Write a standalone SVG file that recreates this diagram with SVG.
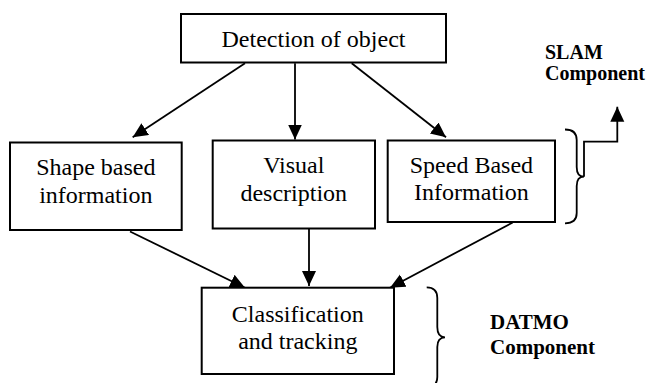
<svg xmlns="http://www.w3.org/2000/svg" width="652" height="383" viewBox="0 0 652 383">
<style>
.box{fill:#fff;stroke:#000;stroke-width:2}
.t{font-family:"Liberation Serif","Times New Roman",serif;font-size:24px;fill:#000;text-anchor:middle}
.b{font-family:"Liberation Serif","Times New Roman",serif;font-weight:bold;fill:#000}
.c{fill:none;stroke:#000;stroke-width:1.8}
.br{fill:none;stroke:#000;stroke-width:1.8}
</style>
<defs>
<marker id="ah" markerUnits="userSpaceOnUse" markerWidth="16" markerHeight="15" refX="15" refY="7" orient="auto">
<path d="M0,0 L15,7 L0,14 z" fill="#000"/>
</marker>
</defs>
<rect width="652" height="383" fill="#fff"/>
<g id="connectors">
<line class="c" x1="245" y1="63.3" x2="132.7" y2="137.3" marker-end="url(#ah)"/>
<line class="c" x1="295" y1="63.3" x2="295" y2="139.5" marker-end="url(#ah)"/>
<line class="c" x1="351.7" y1="63.3" x2="446" y2="137.3" marker-end="url(#ah)"/>
<line class="c" x1="130" y1="231.5" x2="245" y2="287.7" marker-end="url(#ah)"/>
<line class="c" x1="309" y1="228.5" x2="309" y2="286" marker-end="url(#ah)"/>
<line class="c" x1="512.7" y1="222.5" x2="390" y2="287.7" marker-end="url(#ah)"/>
<polyline class="c" points="584,176.7 584,141.7 617.3,141.7 617.3,106.7" marker-end="url(#ah)"/>
</g>
<g id="detection">
<rect class="box" x="181" y="14" width="265" height="48.5"/>
<text class="t" x="313.5" y="46.7">Detection of object</text>
</g>
<g id="shape">
<rect class="box" x="10" y="142.5" width="171.7" height="87.5"/>
<text class="t" x="95.8" y="175">Shape based</text>
<text class="t" x="95.8" y="202.7">information</text>
</g>
<g id="visual">
<rect class="box" x="212.7" y="140.5" width="162.3" height="88"/>
<text class="t" x="293.8" y="173.3">Visual</text>
<text class="t" x="293.8" y="200.8">description</text>
</g>
<g id="speed">
<rect class="box" x="387.7" y="140.5" width="167.3" height="81.5"/>
<text class="t" x="471.4" y="172.7">Speed Based</text>
<text class="t" x="471.4" y="200.4">Information</text>
</g>
<g id="classification">
<rect class="box" x="201.7" y="287.7" width="192.3" height="86.3"/>
<text class="t" x="297.8" y="321.7">Classification</text>
<text class="t" x="297.8" y="349">and tracking</text>
</g>
<g id="slam-brace">
<path class="br" d="M565,129.5 Q576.7,129.5 576.7,140 L576.7,167 Q576.7,176.7 584,176.7 Q576.7,176.7 576.7,186 L576.7,213 Q576.7,223.3 565,223.3"/>
</g>
<g id="datmo-brace">
<path class="br" d="M426.7,287.3 Q437.3,287.3 437.3,298 L437.3,327 Q437.3,337.3 445,337.3 Q437.3,337.3 437.3,347 L437.3,377 Q437.3,387.3 426.7,387.3"/>
</g>
<g id="slam-label">
<text class="b" font-size="20" x="545" y="59.3">SLAM</text>
<text class="b" font-size="20" x="545" y="79.5">Component</text>
</g>
<g id="datmo-label">
<text class="b" font-size="21" x="490" y="329">DATMO</text>
<text class="b" font-size="21" x="490" y="353.5">Component</text>
</g>
</svg>
